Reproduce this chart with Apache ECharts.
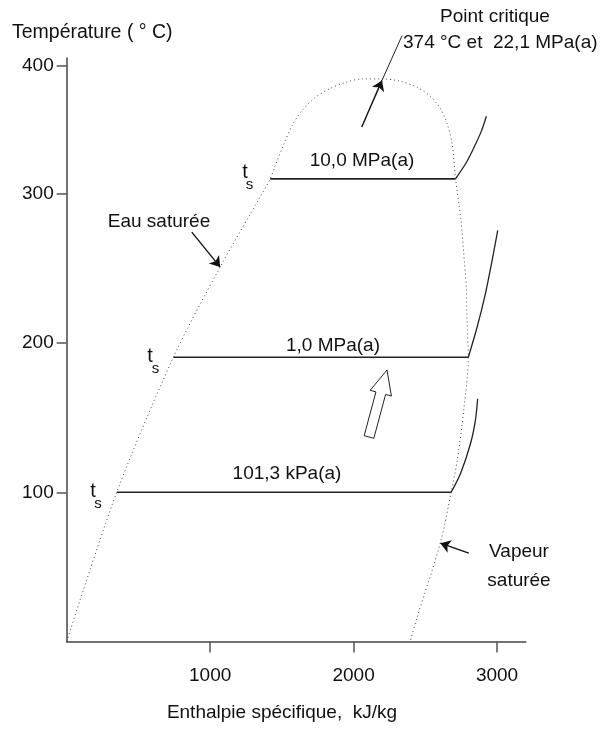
<!DOCTYPE html>
<html>
<head>
<meta charset="utf-8">
<script src="https://cdn.jsdelivr.net/npm/echarts@6/dist/echarts.min.js"></script>
<style>
  html, body { margin: 0; padding: 0; background: #fff; }
  #chart { width: 602px; height: 729px; }
</style>
</head>
<body>
<div id="chart"></div>
<script>
// axes
const xMax = 3200
const yMax = 391
const xTickPos = [1000, 2000, 3000]
const xTickLabels = ['1000', '2000', '3000']
// the original puts its "400" tick a bit low, keep it where it is drawn
const yTickPos = [100, 200, 300, 386]
const yTickLabels = ['100', '200', '300', '400']

// saturation dome (eau saturée -> point critique -> vapeur saturée)
const domeH = [0, 349, 744, 1070, 1349, 1419, 1454, 1510, 1572, 1642, 1733, 1837, 1942, 2061, 2198, 2326, 2444, 2535, 2605, 2654, 2689, 2710, 2749, 2768, 2786, 2791, 2800, 2768, 2722, 2680, 2605, 2442, 2395]
const domeT = [0, 100, 190.5, 251, 298, 310, 319, 332.4, 345.8, 355.9, 364.6, 370.6, 374.6, 377, 377, 375.4, 371.3, 365.3, 357.2, 346.5, 332.4, 311, 282, 260, 237.5, 215, 190.5, 155, 121, 100, 66, 16, 0]

// isobars (vaporisation part)
const p10H = [1419, 2710]
const p10T = [310, 310]
const p1H = [744, 2800]
const p1T = [190.5, 190.5]
const p01H = [349, 2680]
const p01T = [100, 100]

// isobars (superheated part)
const sh10H = [2710, 2786, 2849, 2891, 2926]
const sh10T = [310, 321, 333, 342, 352]
const sh1H = [2800, 2861, 2919, 2966, 3005]
const sh1T = [190.5, 210.6, 233, 255.4, 275.5]
const sh01H = [2680, 2745, 2815, 2849, 2865]
const sh01T = [100, 112.4, 132.5, 148, 162.7]

const zip = (a, b) => a.map((v, i) => [v, b[i]])

const chart = echarts.init(document.getElementById('chart'))
const font = '"Liberation Sans", Arial, sans-serif'
const ink = '#111'

function txt(text, x, y, size, align) {
  return {
    type: 'text', x: x, y: y,
    style: { text: text, font: size + 'px ' + font, fill: ink, textAlign: align || 'center', textVerticalAlign: 'middle' }
  }
}

// hollow arrow (up-right)
function hollowArrow(tx, ty, hx, hy) {
  const dx = hx - tx, dy = hy - ty
  const len = Math.sqrt(dx * dx + dy * dy)
  const ux = dx / len, uy = dy / len
  const nx = -uy, ny = ux
  const sw = 5, hw = 11, hl = 24
  const bx = hx - ux * hl, by = hy - uy * hl
  return [
    [tx + nx * sw, ty + ny * sw],
    [bx + nx * sw, by + ny * sw],
    [bx + nx * hw, by + ny * hw],
    [hx, hy],
    [bx - nx * hw, by - ny * hw],
    [bx - nx * sw, by - ny * sw],
    [tx - nx * sw, ty - ny * sw]
  ]
}

const solid = { color: '#222', width: 1.6 }
const thin = { color: '#222', width: 1.3 }

chart.setOption({
  animation: false,
  grid: { left: 66.7, right: 76.3, top: 58, bottom: 87.5, outerBoundsMode: 'none' },
  xAxis: {
    type: 'value', min: 0, max: xMax, interval: 1000,
    axisLine: { lineStyle: { color: '#444', width: 1.5 } },
    axisTick: { customValues: xTickPos, length: 11, lineStyle: { color: '#555', width: 1.5 } },
    axisLabel: {
      customValues: xTickPos, margin: 25, fontSize: 19, fontFamily: font, color: ink,
      formatter: v => xTickLabels[xTickPos.indexOf(v)]
    },
    splitLine: { show: false }
  },
  yAxis: {
    type: 'value', min: 0, max: yMax, interval: 100,
    axisLine: { lineStyle: { color: '#444', width: 1.5 } },
    axisTick: { customValues: yTickPos, length: 10, lineStyle: { color: '#555', width: 1.5 } },
    axisLabel: {
      customValues: yTickPos, margin: 13, fontSize: 19, fontFamily: font, color: ink,
      formatter: v => yTickLabels[yTickPos.indexOf(v)]
    },
    splitLine: { show: false }
  },
  series: [
    { type: 'line', data: zip(domeH, domeT), smooth: 0.3, symbol: 'none',
      lineStyle: { color: '#444', width: 1, type: [1, 3] } },
    { type: 'line', data: zip(p10H, p10T), symbol: 'none', lineStyle: solid },
    { type: 'line', data: zip(p1H, p1T), symbol: 'none', lineStyle: solid },
    { type: 'line', data: zip(p01H, p01T), symbol: 'none', lineStyle: solid },
    { type: 'line', data: zip(sh10H, sh10T), smooth: 0.3, symbol: 'none', lineStyle: thin },
    { type: 'line', data: zip(sh1H, sh1T), smooth: 0.3, symbol: 'none', lineStyle: thin },
    { type: 'line', data: zip(sh01H, sh01T), smooth: 0.3, symbol: 'none', lineStyle: thin },
    // leader line to the critical point caption
    { type: 'line', data: [[2198, 376], [2338, 406]], symbol: 'none', clip: false,
      lineStyle: { color: '#222', width: 1 } },
    // annotation arrows
    { type: 'lines', coordinateSystem: 'cartesian2d', clip: false,
      symbol: ['none', 'arrow'], symbolSize: 10,
      lineStyle: { color: '#111', width: 1.4, opacity: 1 },
      data: [
        { coords: [[2057, 344.7], [2198, 376]] },
        { coords: [[872, 274.3], [1070, 250.9]] },
        { coords: [[2803, 59.2], [2605, 65.9]] }
      ] }
  ],
  graphic: [
    txt('Température ( ° C)', 12, 33, 19.5, 'left'),
    txt('Point critique', 495, 17, 19),
    txt('374 °C et  22,1 MPa(a)', 403, 43, 19, 'left'),
    txt('Eau saturée', 159, 222, 19),
    txt('Vapeur', 519, 552, 19),
    txt('saturée', 519, 581, 19),
    txt('10,0 MPa(a)', 362, 161, 19),
    txt('1,0 MPa(a)', 333, 346, 19),
    txt('101,3 kPa(a)', 287, 474, 19),
    txt('t', 245, 172, 20), txt('s', 249.5, 185, 15),
    txt('t', 150, 356, 20), txt('s', 155.5, 369, 15),
    txt('t', 93, 491, 20), txt('s', 98, 504, 15),
    txt('Enthalpie spécifique,  kJ/kg', 282, 713, 19),
    { type: 'polygon', shape: { points: hollowArrow(369, 437, 387, 370) },
      style: { fill: '#fff', stroke: '#222', lineWidth: 1 } }
  ]
})
</script>
</body>
</html>
